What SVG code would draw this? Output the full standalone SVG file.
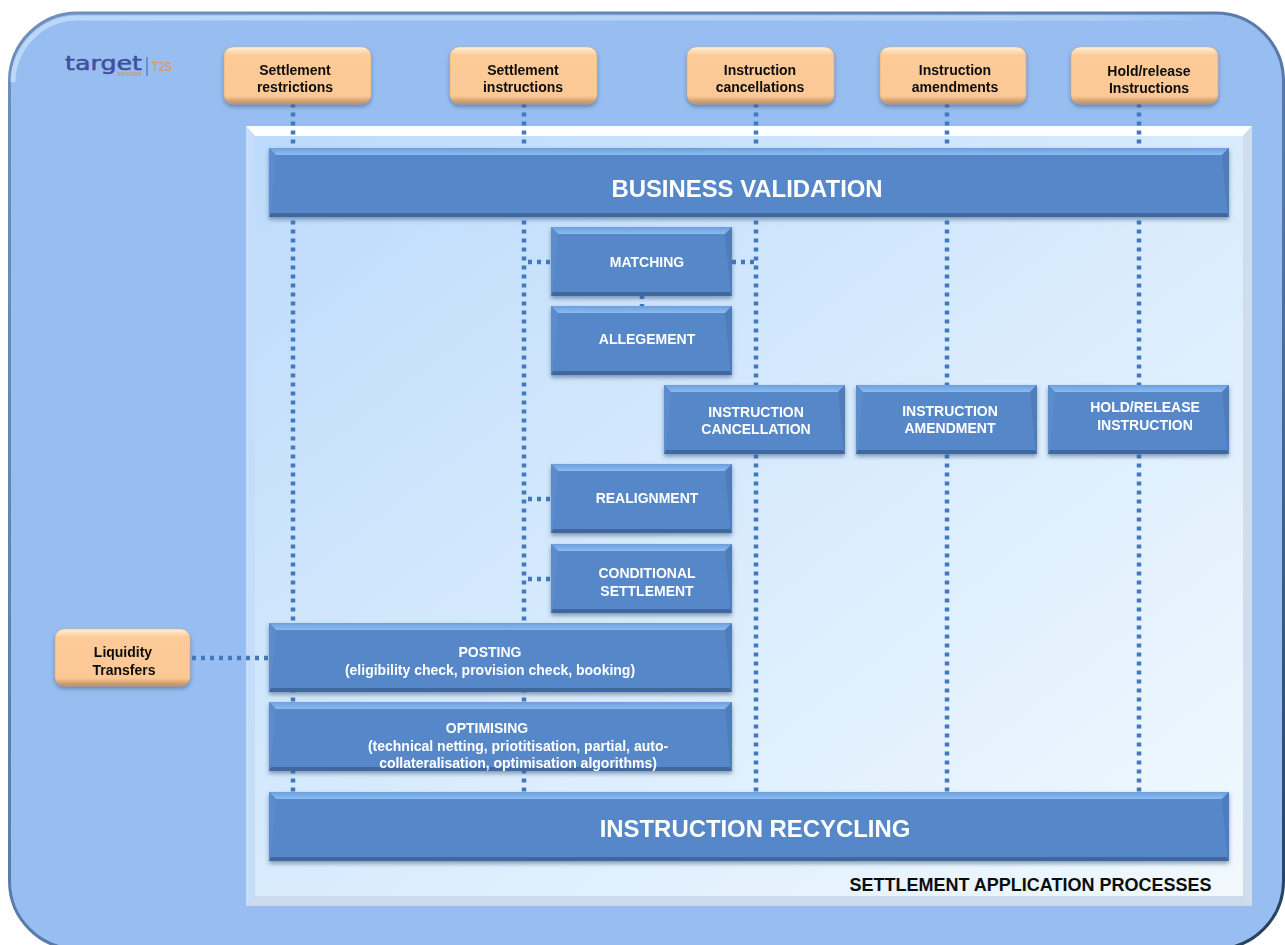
<svg xmlns="http://www.w3.org/2000/svg" width="1285" height="945" viewBox="0 0 1285 945">
<defs>
<linearGradient id="panelG" x1="0" y1="0" x2="1" y2="1"><stop offset="0" stop-color="#bcdafb"/><stop offset="0.5" stop-color="#d8ebfd"/><stop offset="1" stop-color="#f1f9fe"/></linearGradient>
<linearGradient id="orangeG" x1="0" y1="0" x2="0" y2="1"><stop offset="0" stop-color="#fff2d8"/><stop offset="0.14" stop-color="#fdcb98"/><stop offset="0.86" stop-color="#fcc895"/><stop offset="1" stop-color="#b98c62"/></linearGradient>
<linearGradient id="rimG" x1="0" y1="0" x2="1" y2="1"><stop offset="0" stop-color="#6f90bd"/><stop offset="0.6" stop-color="#5577a6"/><stop offset="1" stop-color="#24405f"/></linearGradient>
<linearGradient id="topG" x1="0" y1="0" x2="0" y2="1"><stop offset="0" stop-color="#6d9fdc"/><stop offset="1" stop-color="#8abcf2"/></linearGradient>
<linearGradient id="hiG" x1="0" y1="0" x2="1" y2="0"><stop offset="0" stop-color="#bcd8f8"/><stop offset="0.9" stop-color="#b0cff6"/><stop offset="1" stop-color="#98bef1"/></linearGradient>
<filter id="sh" x="-5%" y="-5%" width="110%" height="125%"><feDropShadow dx="0" dy="2.500" stdDeviation="2" flood-color="#3c5a80" flood-opacity="0.6"/></filter>
<g id="bevelS">
<rect width="181" height="69" class="b"/>
<polygon points="0,0 181,0 174,7 7,7" class="t"/>
<polygon points="0,0 7,7 1.500,66 0,69" class="l"/>
<polygon points="0,69 181,69 179,65 2,65" class="u"/>
<polygon points="181,0 181,69 179.500,66 174,7" class="r"/>
</g>
</defs>
<style>
.b{fill:#5787c8}.t{fill:url(#topG)}.u{fill:#41689f}.r{fill:#4f7dba}.l{fill:#5c8ccb}
.box{filter:url(#sh)}
.o{fill:url(#orangeG);stroke:#d9a878;stroke-width:.5}
text{font-family:"Liberation Sans",Arial,sans-serif;font-weight:700;text-anchor:middle}
.w{fill:#fff;font-size:14px}
.k{fill:#0c0c0c;font-size:14px}
.big{fill:#fff;font-size:23.900px}
.dot{fill:none;stroke:#4279bc;stroke-width:4.500;stroke-dasharray:4 5}
</style>
<g id="background">
<rect x="9.500" y="13" width="1274" height="936" rx="68" fill="#98bef1" stroke="url(#rimG)" stroke-width="3"/>
<path d="M13 82A65 65 0 0 1 78 18H1212" fill="none" stroke="url(#hiG)" stroke-width="5"/>
</g>
<g id="logo">
<text x="103.500" y="70" textLength="77" lengthAdjust="spacingAndGlyphs" style="font-family:'DejaVu Sans',sans-serif;font-weight:400;font-size:19px" fill="#3f4f9c" stroke="#3f4f9c" stroke-width=".5">target</text>
<text x="129.500" y="76" style="font-weight:400;font-size:6.500px" fill="#d99040">services</text>
<rect x="146.500" y="57" width="1" height="19" fill="#4a5aa0"/>
<text x="162" y="71" textLength="20" lengthAdjust="spacingAndGlyphs" style="font-weight:400;font-size:13px" fill="#df9548">T2S</text>
</g>
<g id="panel">
<rect x="246" y="126" width="1006" height="780" fill="#cdd9ec"/>
<polygon points="246,126 1252,126 1243,136 255,136" fill="#fdfeff"/>
<polygon points="246,126 255,136 255,896 246,906" fill="#c6dcf8"/>
<polygon points="1252,126 1243,136 1243,896 1252,906" fill="#d0dded"/>
<rect x="255" y="136" width="988" height="760" fill="url(#panelG)"/>
<text x="1030.500" y="891" style="font-size:18px" fill="#0c0c0c">SETTLEMENT APPLICATION PROCESSES</text>
</g>
<g id="connectors">
<path class="dot" d="M293 103.500V792M524 103.500V792M756 103.500V792M947 103.500V792M1139 103.500V792"/>
<path class="dot" d="M528 262H551M732 262H754M528 499H551M528 579H551M192 658H269"/>
<path class="dot" d="M642 295V306"/>
</g>
<g id="business-validation" class="box">
<rect x="269" y="148" width="960" height="69" class="b"/><polygon points="269,148 1229,148 1222,155 276,155" class="t"/><polygon points="269,148 276,155 270.500,214 269,217" class="l"/><polygon points="269,217 1229,217 1227,213 271,213" class="u"/><polygon points="1229,148 1229,217 1227.500,214 1222,155" class="r"/>
<text x="747" y="197" class="big">BUSINESS VALIDATION</text></g>
<g id="matching" class="box"><use href="#bevelS" x="551" y="227"/><text x="647" y="267" class="w">MATCHING</text></g>
<g id="allegement" class="box"><use href="#bevelS" x="551" y="306"/><text x="647" y="344" class="w">ALLEGEMENT</text></g>
<g id="instruction-cancellation" class="box"><use href="#bevelS" x="664" y="385"/><text x="756" y="417" class="w">INSTRUCTION</text><text x="756" y="434" class="w">CANCELLATION</text></g>
<g id="instruction-amendment" class="box"><use href="#bevelS" x="856" y="385"/><text x="950" y="416" class="w">INSTRUCTION</text><text x="950" y="433" class="w">AMENDMENT</text></g>
<g id="hold-release-instruction" class="box"><use href="#bevelS" x="1048" y="385"/><text x="1145" y="412" class="w">HOLD/RELEASE</text><text x="1145" y="430" class="w">INSTRUCTION</text></g>
<g id="realignment" class="box"><use href="#bevelS" x="551" y="464"/><text x="647" y="503" class="w">REALIGNMENT</text></g>
<g id="conditional-settlement" class="box"><use href="#bevelS" x="551" y="544"/><text x="647" y="578" class="w">CONDITIONAL</text><text x="647" y="596" class="w">SETTLEMENT</text></g>
<g id="posting" class="box">
<rect x="269" y="623" width="463" height="69" class="b"/><polygon points="269,623 732,623 725,630 276,630" class="t"/><polygon points="269,623 276,630 270.500,689 269,692" class="l"/><polygon points="269,692 732,692 730,688 271,688" class="u"/><polygon points="732,623 732,692 730.500,689 725,630" class="r"/>
<text x="490" y="657" class="w">POSTING</text><text x="490" y="675" class="w">(eligibility check, provision check, booking)</text></g>
<g id="optimising" class="box">
<rect x="269" y="702" width="463" height="69" class="b"/><polygon points="269,702 732,702 725,709 276,709" class="t"/><polygon points="269,702 276,709 270.500,768 269,771" class="l"/><polygon points="269,771 732,771 730,767 271,767" class="u"/><polygon points="732,702 732,771 730.500,768 725,709" class="r"/>
<text x="487" y="733" class="w">OPTIMISING</text><text x="518" y="751" class="w">(technical netting, priotitisation, partial, auto-</text><text x="518" y="768" class="w">collateralisation, optimisation algorithms)</text></g>
<g id="instruction-recycling" class="box">
<rect x="269" y="792" width="960" height="69" class="b"/><polygon points="269,792 1229,792 1222,799 276,799" class="t"/><polygon points="269,792 276,799 270.500,858 269,861" class="l"/><polygon points="269,861 1229,861 1227,857 271,857" class="u"/><polygon points="1229,792 1229,861 1227.500,858 1222,799" class="r"/>
<text x="755" y="837" class="big">INSTRUCTION RECYCLING</text></g>
<g id="settlement-restrictions" class="box"><rect x="224" y="47" width="147" height="57" rx="9" class="o"/><text x="295" y="75" class="k">Settlement</text><text x="295" y="92" class="k">restrictions</text></g>
<g id="settlement-instructions" class="box"><rect x="450" y="47" width="147" height="57" rx="9" class="o"/><text x="523" y="75" class="k">Settlement</text><text x="523" y="92" class="k">instructions</text></g>
<g id="instruction-cancellations" class="box"><rect x="687" y="47" width="147" height="57" rx="9" class="o"/><text x="760" y="75" class="k">Instruction</text><text x="760" y="92" class="k">cancellations</text></g>
<g id="instruction-amendments" class="box"><rect x="880" y="47" width="146" height="57" rx="9" class="o"/><text x="955" y="75" class="k">Instruction</text><text x="955" y="92" class="k">amendments</text></g>
<g id="hold-release-instructions" class="box"><rect x="1071" y="47" width="147" height="57" rx="9" class="o"/><text x="1149" y="76" class="k">Hold/release</text><text x="1149" y="93" class="k">Instructions</text></g>
<g id="liquidity-transfers" class="box"><rect x="55" y="629" width="135" height="57" rx="9" class="o"/><text x="123" y="657" class="k">Liquidity</text><text x="124" y="675" class="k">Transfers</text></g>
</svg>
